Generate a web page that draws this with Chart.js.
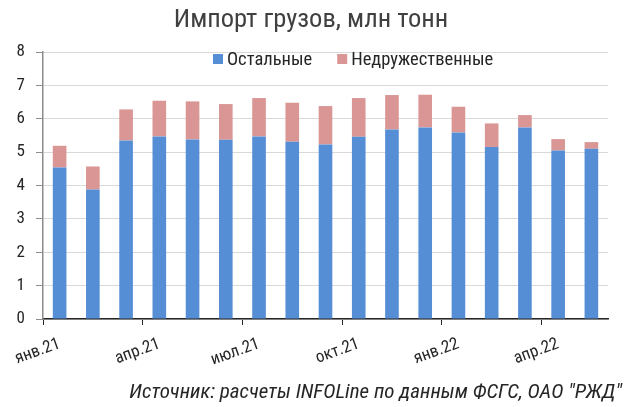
<!DOCTYPE html>
<html><head><meta charset="utf-8">
<style>html,body{margin:0;padding:0;background:#fff}#wrap{width:634px;height:407px}</style>
<script src="https://cdn.jsdelivr.net/npm/chart.js@4/dist/chart.umd.min.js"></script>
</head><body><div id="wrap"><canvas id="c" width="634" height="407"></canvas></div>
<script>
const categories = ['янв.21','фев.21','мар.21','апр.21','май.21','июн.21','июл.21','авг.21','сен.21','окт.21','ноя.21','дек.21','янв.22','фев.22','мар.22','апр.22','май.22'];
const others = [4.54, 3.88, 5.35, 5.47, 5.38, 5.37, 5.47, 5.31, 5.23, 5.46, 5.68, 5.74, 5.59, 5.15, 5.74, 5.05, 5.10];
const unfriendly = [0.65, 0.69, 0.93, 1.07, 1.14, 1.07, 1.15, 1.17, 1.15, 1.16, 1.03, 0.98, 0.77, 0.71, 0.37, 0.34, 0.20];
const yTicks = [0,1,2,3,4,5,6,7,8];
const titleText = 'Импорт грузов, млн тонн';
const sourceText = 'Источник: расчеты INFOLine по данным ФСГС, ОАО "РЖД"';
const seriesNames = ['Остальные','Недружественные'];

const FONT = "'Roboto Condensed', Roboto, sans-serif";

const legendPlugin = {
  id: 'customLegend',
  afterDraw(chart) {
    const ctx = chart.ctx;
    ctx.save();
    ctx.font = "18.5px " + FONT;
    ctx.textBaseline = 'middle';
    ctx.textAlign = 'left';
    let x = 213;
    const y = 59;
    chart.data.datasets.forEach((ds, i) => {
      ctx.fillStyle = ds.backgroundColor;
      ctx.fillRect(x, y - 5, 10, 10);
      ctx.fillStyle = '#262626';
      ctx.fillText(ds.label, x + 14, y + 1);
      x += 14 + ctx.measureText(ds.label).width + 25;
    });
    ctx.restore();
  }
};

new Chart(document.getElementById('c'), {
  type: 'bar',
  data: {
    labels: categories,
    datasets: [
      {label: seriesNames[0], data: others, backgroundColor: '#558ED5', borderWidth: 0},
      {label: seriesNames[1], data: unfriendly, backgroundColor: '#D99694', borderWidth: 0}
    ]
  },
  options: {
    responsive: false,
    animation: false,
    devicePixelRatio: 1,
    layout: {padding: {left: 0, right: 12, top: 0, bottom: 0}},
    datasets: {bar: {categoryPercentage: 1, barPercentage: 0.41}},
    plugins: {
      legend: {display: false},
      tooltip: {enabled: false},
      title: {display: true, text: titleText, color: '#404040',
        font: {family: FONT, size: 26.5, weight: 'normal', lineHeight: 1.2},
        padding: {top: 4, bottom: 16.2}},
      subtitle: {display: true, text: sourceText, position: 'bottom', align: 'end', color: '#262626',
        font: {family: FONT, size: 21, style: 'italic', weight: 'normal', lineHeight: 1.2},
        padding: {top: 0, bottom: 2}}
    },
    scales: {
      x: {
        stacked: true,
        afterFit(s) { s.height = 60.8; },
        grid: {offset: true, drawOnChartArea: false, drawTicks: true, tickLength: 6,
          color: (c) => (c.index % 3 === 0 ? '#262626' : 'rgba(0,0,0,0)'), lineWidth: 1},
        border: {display: true, color: '#262626', width: 1.5},
        ticks: {autoSkip: false, minRotation: 20, maxRotation: 20, padding: 9, labelOffset: 0,
          color: '#262626', font: {family: FONT, size: 17},
          callback(v, i) { return i % 3 === 0 ? this.getLabelForValue(v) : ''; }}
      },
      y: {
        stacked: true, min: 0, max: 8,
        afterFit(s) { s.width = 43; },
        afterBuildTicks(s) { s.ticks = yTicks.map(v => ({value: v})); },
        grid: {color: '#d9d9d9', lineWidth: 1, tickLength: 7, tickColor: '#8c8c8c'},
        border: {display: true, color: '#8c8c8c', width: 1.5},
        ticks: {padding: 11, color: '#262626', font: {family: FONT, size: 17}}
      },
      y2: {
        position: 'right', display: true,
        afterFit(s) { s.width = 14; },
        grid: {display: false, drawTicks: false}, border: {display: false},
        ticks: {display: false}
      }
    }
  },
  plugins: [legendPlugin]
});
</script></body></html>
